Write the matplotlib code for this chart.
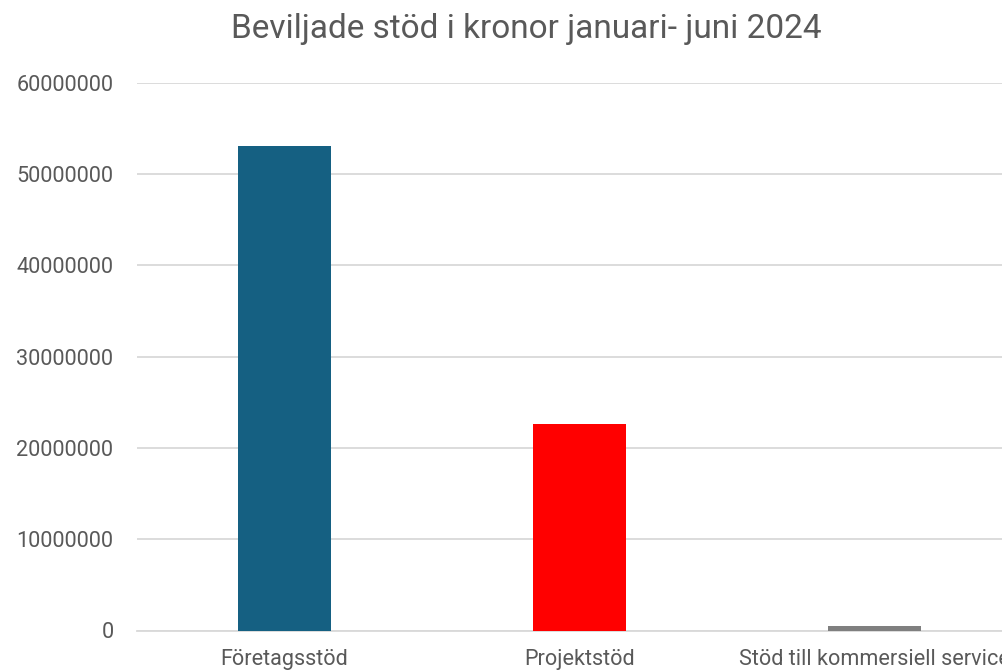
import matplotlib
matplotlib.use("Agg")
import matplotlib.pyplot as plt

categories = ["Företagsstöd", "Projektstöd", "Stöd till kommersiell service"]
values = [53050000, 22600000, 450000]
colors = ["#156082", "#FF0000", "#7F7F7F"]
yticks = [0, 10000000, 20000000, 30000000, 40000000, 50000000, 60000000]

plt.rcParams['font.family'] = ['Roboto', 'DejaVu Sans']

W, H = 1002, 671
fig = plt.figure(figsize=(W/100, H/100), dpi=100)
x0, x1 = 137, 1022
y0, y1 = 630.5, 82.7
ax = fig.add_axes([x0/W, 1-y0/H, (x1-x0)/W, (y0-y1)/H])

pos = list(range(len(categories)))
ax.bar(pos, values, width=0.315, color=colors, zorder=3)
ax.set_xlim(-0.5, 2.5)
ax.set_ylim(0, 60000000)
ax.set_yticks(yticks)
ax.set_yticklabels([str(v) for v in yticks])
ax.set_xticks(pos)
ax.set_xticklabels(categories)
ax.grid(axis='y', color='#D9D9D9', linewidth=1.3, zorder=0)
for s in ["top", "right", "left"]:
    ax.spines[s].set_visible(False)
ax.spines["bottom"].set_color('#D9D9D9')
ax.spines["bottom"].set_linewidth(1.3)
ax.tick_params(axis='y', length=0, pad=17, labelsize=15.6, labelcolor='#595959')
ax.tick_params(axis='x', length=0, pad=13, labelsize=15.6, labelcolor='#595959')
fig.text(526/W, 1-29/H, "Beviljade stöd i kronor januari- juni 2024", ha='center', va='center',
         fontsize=24, color='#595959')
fig.savefig("out.png", dpi=100)
